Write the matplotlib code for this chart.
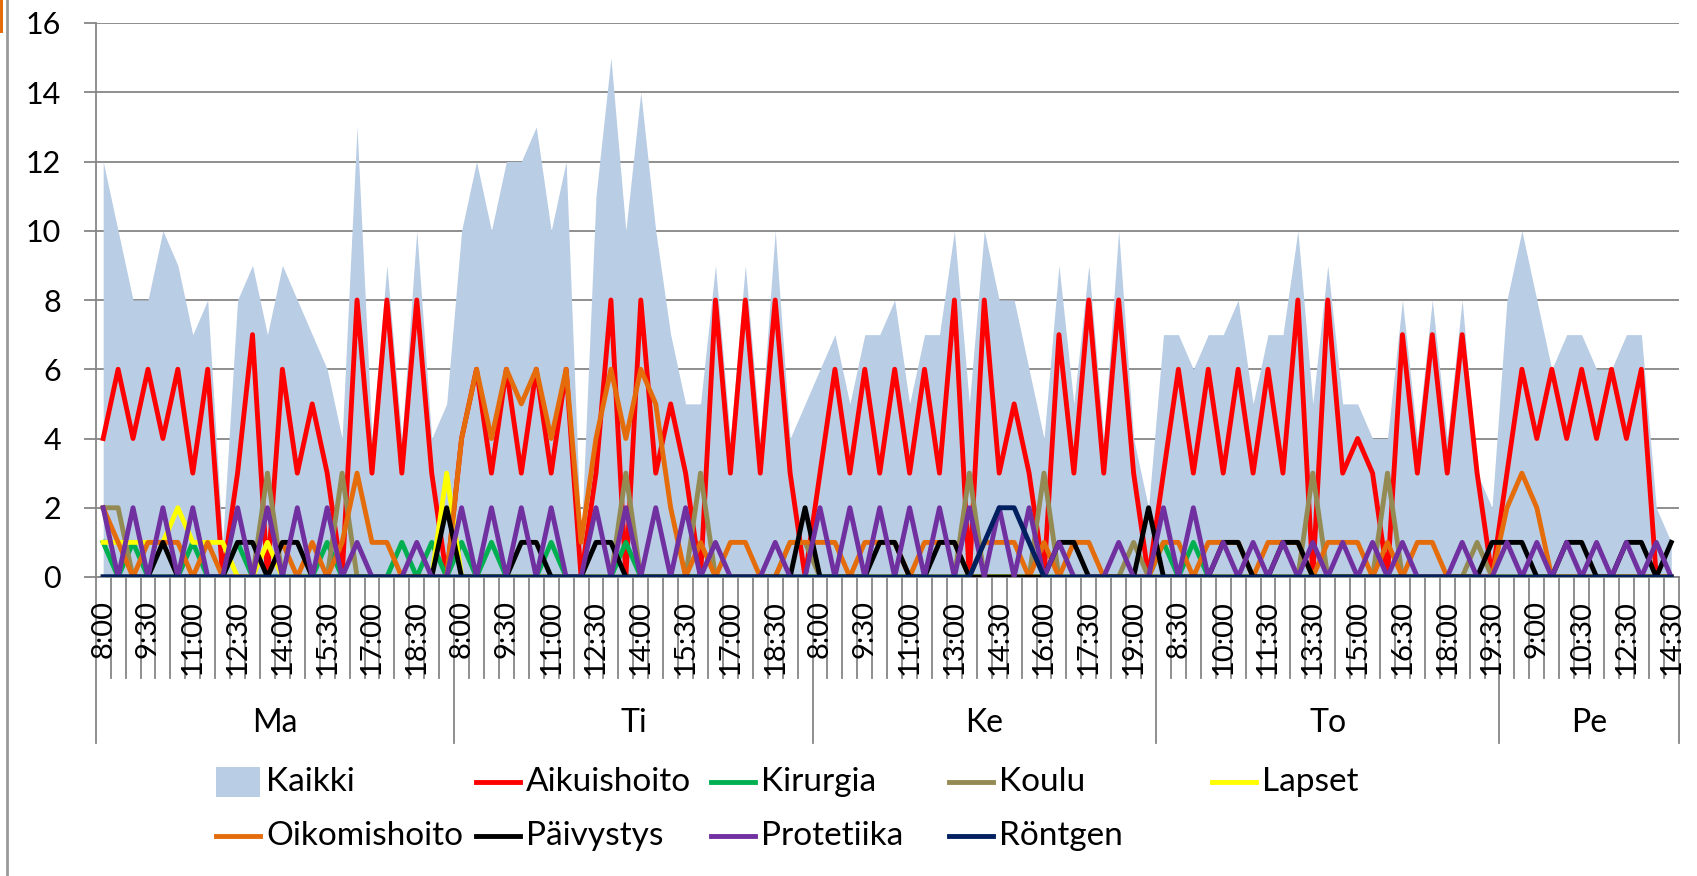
import numpy as np
import matplotlib.pyplot as plt
import matplotlib.transforms as mtransforms
from matplotlib.lines import Line2D
from matplotlib.patches import Rectangle

plt.rcParams['font.family'] = ['Lato', 'DejaVu Sans']

#%% data, one row per day (Ma, Ti, Ke, To, Pe)
paivat = ['Ma', 'Ti', 'Ke', 'To', 'Pe']

ajat_ma = ['8:00', '8:30', '9:00', '9:30', '10:00', '10:30', '11:00', '11:30', '12:00', '12:30',
           '13:00', '13:30', '14:00', '14:30', '15:00', '15:30', '16:00', '16:30', '17:00', '17:30',
           '18:00', '18:30', '19:00', '19:30']
ajat_ti = ajat_ma
ajat_ke = ['8:00', '8:30', '9:00', '9:30', '10:00', '10:30', '11:00', '11:30', '12:30', '13:00',
           '13:30', '14:00', '14:30', '15:00', '15:30', '16:00', '16:30', '17:00', '17:30', '18:00',
           '18:30', '19:00', '19:30']
ajat_to = ajat_ke
ajat_pe = ['8:00', '8:30', '9:00', '9:30', '10:00', '10:30', '11:00', '11:30', '12:30', '13:00',
           '13:30', '14:30']

kaikki = ([12, 10, 8, 8, 10, 9, 7, 8, 1, 8, 9, 7, 9, 8, 7, 6, 4, 13, 4, 9, 4, 10, 4, 5] +
          [10, 12, 10, 12, 12, 13, 10, 12, 1, 11, 15, 10, 14, 10, 7, 5, 5, 9, 4, 9, 4, 10, 4, 5] +
          [6, 7, 5, 7, 7, 8, 5, 7, 7, 10, 5, 10, 8, 8, 6, 4, 9, 5, 9, 4, 10, 4, 2] +
          [7, 7, 6, 7, 7, 8, 5, 7, 7, 10, 5, 9, 5, 5, 4, 4, 8, 4, 8, 4, 8, 3, 2] +
          [8, 10, 8, 6, 7, 7, 6, 6, 7, 7, 2, 1])

aikuishoito = ([4, 6, 4, 6, 4, 6, 3, 6, 0, 3, 7, 0, 6, 3, 5, 3, 0, 8, 3, 8, 3, 8, 3, 0] +
               [4, 6, 3, 6, 3, 6, 3, 6, 0, 3, 8, 0, 8, 3, 5, 3, 0, 8, 3, 8, 3, 8, 3, 0] +
               [3, 6, 3, 6, 3, 6, 3, 6, 3, 8, 0, 8, 3, 5, 3, 0, 7, 3, 8, 3, 8, 3, 0] +
               [3, 6, 3, 6, 3, 6, 3, 6, 3, 8, 0, 8, 3, 4, 3, 0, 7, 3, 7, 3, 7, 3, 0] +
               [3, 6, 4, 6, 4, 6, 4, 6, 4, 6, 0, 0])

kirurgia = ([1, 0, 1, 0, 0, 0, 1, 0, 0, 1, 0, 0, 0, 0, 0, 1, 0, 0, 0, 0, 1, 0, 1, 0] +
            [1, 0, 1, 0, 0, 0, 1, 0, 0, 0, 0, 1, 0, 0, 0, 0, 0, 0, 0, 0, 0, 0, 0, 0] +
            [0, 0, 0, 0, 0, 0, 0, 0, 0, 0, 0, 0, 0, 0, 0, 0, 0, 0, 0, 0, 0, 0, 0] +
            [1, 0, 1, 0, 0, 0, 0, 0, 0, 0, 0, 0, 0, 0, 0, 0, 0, 0, 0, 0, 0, 0, 0] +
            [0, 0, 0, 0, 0, 0, 0, 0, 0, 0, 0, 0])

koulu = ([2, 2, 0, 0, 0, 0, 0, 0, 0, 0, 0, 3, 0, 0, 0, 0, 3, 0, 0, 0, 0, 0, 0, 0] +
         [0, 0, 0, 0, 0, 0, 0, 0, 0, 0, 0, 3, 0, 0, 0, 0, 3, 0, 0, 0, 0, 0, 1, 1] +
         [0, 0, 0, 0, 0, 0, 0, 0, 0, 0, 3, 0, 0, 0, 0, 3, 0, 0, 0, 0, 0, 1, 0] +
         [0, 0, 0, 0, 0, 0, 0, 0, 0, 0, 3, 0, 0, 0, 0, 3, 0, 0, 0, 0, 0, 1, 0] +
         [0, 0, 0, 0, 0, 0, 0, 0, 0, 0, 0, 0])

lapset = ([1, 1, 1, 1, 1, 2, 1, 1, 1, 0, 0, 1, 0, 0, 0, 0, 0, 0, 0, 0, 0, 0, 0, 3] +
          [0] * 24 + [0] * 23 + [0] * 23 + [0] * 12)

oikomishoito = ([2, 1, 0, 1, 1, 1, 0, 1, 0, 0, 0, 0, 1, 0, 1, 0, 1, 3, 1, 1, 0, 0, 0, 0] +
                [4, 6, 4, 6, 5, 6, 4, 6, 1, 4, 6, 4, 6, 5, 2, 0, 1, 0, 1, 1, 0, 0, 1, 1] +
                [1, 1, 0, 1, 1, 1, 0, 1, 1, 1, 0, 1, 1, 1, 0, 1, 0, 1, 1, 0, 0, 0, 0] +
                [1, 1, 0, 1, 1, 1, 0, 1, 1, 1, 0, 1, 1, 1, 0, 1, 0, 1, 1, 0, 0, 0, 0] +
                [2, 3, 2, 0, 0, 0, 0, 0, 0, 0, 0, 0])

paivystys = ([0, 0, 0, 0, 1, 0, 0, 0, 0, 1, 1, 0, 1, 1, 0, 0, 0, 0, 0, 0, 0, 0, 0, 2] +
             [0, 0, 0, 0, 1, 1, 0, 0, 0, 1, 1, 0, 0, 0, 0, 0, 0, 0, 0, 0, 0, 0, 0, 2] +
             [0, 0, 0, 0, 1, 1, 0, 0, 1, 1, 0, 0, 0, 0, 0, 0, 1, 1, 0, 0, 0, 0, 2] +
             [0, 0, 0, 0, 1, 1, 0, 0, 1, 1, 0, 0, 0, 0, 0, 0, 0, 0, 0, 0, 0, 0, 1] +
             [1, 1, 0, 0, 1, 1, 0, 0, 1, 1, 0, 1])

protetiika = ([2, 0, 2, 0, 2, 0, 2, 0, 0, 2, 0, 2, 0, 2, 0, 2, 0, 1, 0, 0, 0, 1, 0, 0] +
              [2, 0, 2, 0, 2, 0, 2, 0, 0, 2, 0, 2, 0, 2, 0, 2, 0, 1, 0, 0, 0, 1, 0, 0] +
              [2, 0, 2, 0, 2, 0, 2, 0, 2, 0, 2, 0, 2, 0, 2, 0, 1, 0, 0, 0, 1, 0, 0] +
              [2, 0, 2, 0, 1, 0, 1, 0, 1, 0, 1, 0, 1, 0, 1, 0, 1, 0, 0, 0, 1, 0, 0] +
              [1, 0, 1, 0, 1, 0, 1, 0, 1, 0, 1, 0])

rontgen = ([0] * 24 + [0] * 24 +
           [0, 0, 0, 0, 0, 0, 0, 0, 0, 0, 0, 1, 2, 2, 1, 0, 0, 0, 0, 0, 0, 0, 0] +
           [0] * 23 + [0] * 12)

sarjat = [('Aikuishoito', aikuishoito, '#FF0000'),
          ('Kirurgia', kirurgia, '#00B050'),
          ('Koulu', koulu, '#948A54'),
          ('Lapset', lapset, '#FFFF00'),
          ('Oikomishoito', oikomishoito, '#E46C0A'),
          ('Päivystys', paivystys, '#000000'),
          ('Protetiika', protetiika, '#7030A0'),
          ('Röntgen', rontgen, '#002060')]

ajat = ajat_ma + ajat_ti + ajat_ke + ajat_to + ajat_pe
paivan_pituus = [len(ajat_ma), len(ajat_ti), len(ajat_ke), len(ajat_to), len(ajat_pe)]

#%% figure
W, H = 1697, 876
LW = 3.5
fig = plt.figure(figsize=(W / 100, H / 100), dpi=100)
ax = fig.add_axes([95.7 / W, 1 - 577 / H, (1678.7 - 95.7) / W, (577 - 23) / H])

n = len(ajat)
x = np.arange(n)
ax.fill_between(x, 0, kaikki, color='#B9CDE5', lw=0, zorder=2)
for nimi, arvot, vari in sarjat:
    ax.plot(x, arvot, color=vari, lw=LW, zorder=3)

ax.set_xlim(-0.5, n - 0.5)
ax.set_ylim(0, 16)
ax.set_yticks(range(0, 17, 2))
ax.yaxis.grid(True, color='#868686', lw=1.3, zorder=1)
ax.set_axisbelow(True)
ax.tick_params(axis='y', length=9, width=1.3, color='#868686', pad=16, labelsize=22)
ax.set_xticks([])
for s in ['top', 'right']:
    ax.spines[s].set_visible(False)
ax.spines['left'].set_color('#868686')
ax.spines['left'].set_linewidth(1.3)
ax.spines['bottom'].set_color('#868686')
ax.spines['bottom'].set_linewidth(1.3)

# category axis: ticks, time labels, day labels
tr = mtransforms.blended_transform_factory(ax.transData, fig.transFigure)
y_akseli = 1 - 577 / H
alut = np.cumsum([0] + paivan_pituus)
for b in range(n + 1):
    ala = 1 - 743 / H if b in alut else 1 - 678 / H
    ax.add_line(Line2D([b - 0.5, b - 0.5], [y_akseli, ala], transform=tr,
                       color='#868686', lw=1.3, clip_on=False))
for i, t in enumerate(ajat):
    if i % 3 == 0:
        ax.text(i, 1 - 600 / H, t, transform=tr, rotation=90, ha='center', va='top',
                fontsize=21)
for k, p in enumerate(paivat):
    keski = (alut[k] + alut[k + 1] - 1) / 2
    ax.text(keski, 1 - 723 / H, p, transform=tr, ha='center', va='center', fontsize=23)

# legend, placed like the original
selite = [('Kaikki', 216, 782), ('Aikuishoito', 476, 782), ('Kirurgia', 711, 782),
          ('Koulu', 949, 782), ('Lapset', 1212, 782), ('Oikomishoito', 216, 836),
          ('Päivystys', 476, 836), ('Protetiika', 711, 836), ('Röntgen', 949, 836)]
varit = {nimi: vari for nimi, arvot, vari in sarjat}
for nimi, xs, ys in selite:
    if nimi == 'Kaikki':
        fig.add_artist(Rectangle((xs / W, 1 - (ys + 15) / H), 44 / W, 30 / H,
                                 color='#B9CDE5', lw=0))
    else:
        fig.add_artist(Line2D([xs / W, (xs + 44) / W], [1 - ys / H, 1 - ys / H],
                              color=varit[nimi], lw=LW))
    fig.text((xs + 50) / W, 1 - ys / H, nimi, ha='left', va='center', fontsize=24)

# frame remnants at the left edge
fig.add_artist(Line2D([7 / W, 7 / W], [0, 1], color='#9A9A9A', lw=2))
fig.add_artist(Rectangle((0, 1 - 33 / H), 3 / W, 33 / H, color='#E46C0A', lw=0))

fig.savefig('out.png', dpi=100)
